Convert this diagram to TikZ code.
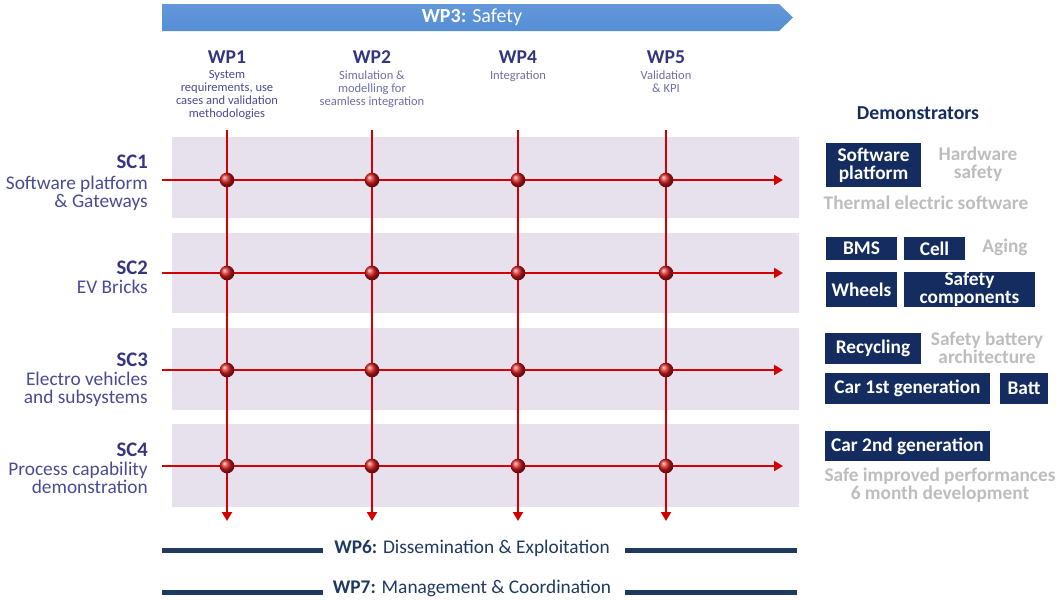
\documentclass[tikz,border=0pt]{standalone}
\usepackage{fontspec}
\setmainfont{Carlito}
\usetikzlibrary{arrows.meta,shadings}
\definecolor{bannerblue}{HTML}{558ED5}
\definecolor{bandfill}{HTML}{E6E1EC}
\definecolor{gridred}{HTML}{D20000}
\definecolor{navy}{HTML}{142C5F}
\definecolor{sctitle}{HTML}{35357F}
\definecolor{sctext}{HTML}{4A4A96}
\definecolor{wpdesc}{HTML}{6E6EA6}
\definecolor{graytext}{HTML}{BDBDBD}
\definecolor{barnavy}{HTML}{1F3A60}
\tikzset{
  gridline/.style={draw=gridred, line width=1.5pt, -{Triangle[length=6.75pt,width=7.5pt]}},
  dot/.style={circle, inner sep=0pt, minimum size=11pt, shading=ball, ball color=gridred!90!white},
  wptitle/.style={text=sctitle, font=\bfseries\fontsize{14.7}{16}\selectfont, anchor=base},
  wpdesctext/.style={text=wpdesc, font=\fontsize{9.4}{9.6}\selectfont, align=center, anchor=base, inner sep=0pt},
  sctitlelabel/.style={text=sctitle, anchor=base east, inner sep=0pt, font=\bfseries\fontsize{15.5}{16}\selectfont},
  sclabel/.style={text=sctext, align=right, anchor=base east, inner sep=0pt, font=\fontsize{14.5}{13.2}\selectfont},
  demo/.style={fill=navy, text=white, inner sep=0pt, align=center, font=\bfseries\fontsize{14.5}{13.2}\selectfont},
  graylabel/.style={text=graytext, align=center, font=\bfseries\fontsize{14.5}{13.2}\selectfont},
  bar/.style={draw=barnavy, line width=3.75pt},
  band/.style={fill=bandfill, draw=none},
  barlabel/.style={text=barnavy, font=\fontsize{14.5}{16}\selectfont}
}
\begin{document}
\begin{tikzpicture}[x=0.75pt, y=-0.75pt]
\useasboundingbox (0,0) rectangle (1060,600);
% banner
\shade[top color=bannerblue!92!white, bottom color=bannerblue] (162,4) -- (779,4) -- (793,17.5) -- (779,31) -- (162,31) -- cycle;
\node[text=white, font=\fontsize{15}{16}\selectfont] (wp3) at (472,17) {\textbf{WP3:} Safety};
% bands
\fill[band] (172,137) rectangle (799,218);
\fill[band] (172,233) rectangle (799,313);
\fill[band] (172,328) rectangle (799,410);
\fill[band] (172,424) rectangle (799,507);
% WP headers
\node[wptitle] (wp1) at (227,63) {WP1};
\node[wptitle] (wp2) at (372,63) {WP2};
\node[wptitle] (wp4) at (518,63) {WP4};
\node[wptitle] (wp5) at (666,63) {WP5};
\node[wpdesctext, text=sctext] (wp1d) at (227,117) {System\\requirements, use\\cases and validation\\methodologies};
\node[wpdesctext] (wp2d) at (372,105) {Simulation \&\\modelling for\\seamless integration};
\node[wpdesctext] (wp4d) at (518,79) {Integration};
\node[wpdesctext] (wp5d) at (666,92) {Validation\\\& KPI};
% grid coordinates
\foreach \i/\x in {1/227,2/372,3/518,4/666}{
  \coordinate (vt\i) at (\x,130);
  \coordinate (vb\i) at (\x,521);
}
\foreach \j/\y in {1/180,2/273,3/370,4/466}{
  \coordinate (hl\j) at (162,\y);
  \coordinate (hr\j) at (783,\y);
}
\foreach \i in {1,...,4}{ \draw[gridline] (vt\i) -- (vb\i); }
\foreach \j in {1,...,4}{ \draw[gridline] (hl\j) -- (hr\j); }
\foreach \i/\x in {1/227,2/372,3/518,4/666}{
  \foreach \j/\y in {1/180,2/273,3/370,4/466}{
    \node[dot] (d\i\j) at (\x,\y) {};
  }
}
% SC labels
\node[sctitlelabel] (sc1) at (148,168) {SC1};
\node[sclabel] (sc1d) at (148,207) {Software platform\\\& Gateways};
\node[sctitlelabel] (sc2) at (148,274) {SC2};
\node[sclabel] (sc2d) at (148,293) {EV Bricks};
\node[sctitlelabel] (sc3) at (148,366) {SC3};
\node[sclabel] (sc3d) at (148,403) {Electro vehicles\\and subsystems};
\node[sctitlelabel] (sc4) at (148,456) {SC4};
\node[sclabel] (sc4d) at (148,493) {Process capability\\demonstration};
% demonstrators
\node[text=navy, font=\bfseries\fontsize{14.8}{16}\selectfont] (demoh) at (918,113) {Demonstrators};
\node[demo, minimum width=71.25pt, minimum height=33pt] (swp) at (873.5,165) {Software\\platform};
\node[graylabel] (hws) at (978,164) {Hardware\\safety};
\node[graylabel] (tes) at (926,203) {Thermal electric software};
\node[demo, minimum width=53.25pt, minimum height=17.25pt] (bms) at (861.5,248.5) {BMS};
\node[demo, minimum width=45.75pt, minimum height=17.25pt] (cell) at (934.5,248.5) {Cell};
\node[graylabel] (aging) at (1005,247) {Aging};
\node[demo, minimum width=53.25pt, minimum height=26.25pt] (wheels) at (861.5,289.5) {Wheels};
\node[demo, minimum width=98.25pt, minimum height=26.25pt] (safc) at (969.5,289.5) {Safety\\components};
\node[demo, minimum width=72pt, minimum height=23.25pt] (recy) at (873,348.5) {Recycling};
\node[graylabel] (sba) at (987,348) {Safety battery\\architecture};
\node[demo, minimum width=123.75pt, minimum height=23.25pt] (car1) at (907.5,388.5) {Car 1st generation};
\node[demo, minimum width=36pt, minimum height=23.25pt] (batt) at (1024,388.5) {Batt};
\node[demo, minimum width=123.75pt, minimum height=22.5pt] (car2) at (907.5,446) {Car 2nd generation};
\node[graylabel] (sip) at (940,485) {Safe improved performances\\6 month development};
% WP6 / WP7 bars
\coordinate (b6a) at (162,550); \coordinate (b6b) at (323,550);
\coordinate (b6c) at (625,550); \coordinate (b6d) at (797,550);
\coordinate (b7a) at (162,592); \coordinate (b7b) at (323,592);
\coordinate (b7c) at (625,592); \coordinate (b7d) at (797,592);
\draw[bar] (b6a) -- (b6b); \draw[bar] (b6c) -- (b6d);
\draw[bar] (b7a) -- (b7b); \draw[bar] (b7c) -- (b7d);
\node[barlabel] (wp6) at (472,548) {\textbf{WP6:} Dissemination \& Exploitation};
\node[barlabel] (wp7) at (472,588) {\textbf{WP7:} Management \& Coordination};
\end{tikzpicture}
\end{document}
